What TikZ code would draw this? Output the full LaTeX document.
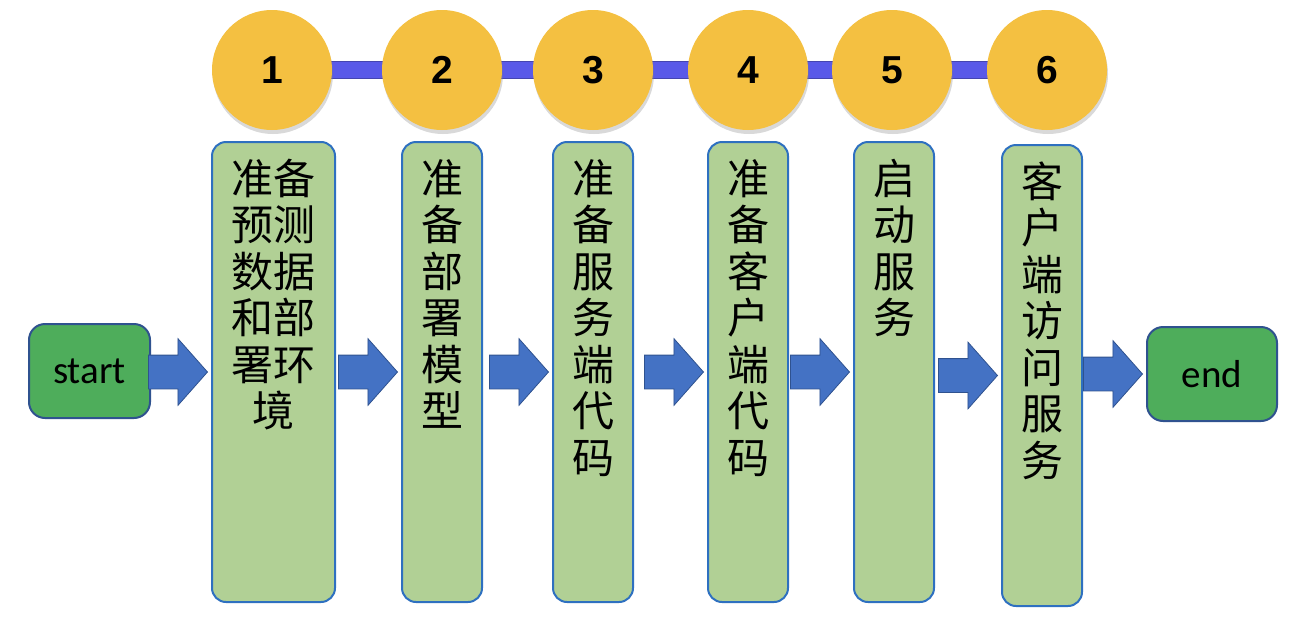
\documentclass[tikz,border=0pt]{standalone}
\usepackage{fontspec}
\setmainfont{Carlito}
\newfontfamily\cjk{Noto Sans CJK SC}
\newfontfamily\numfont{Liberation Sans}
\usetikzlibrary{calc,shapes.arrows,shadows,backgrounds}
\definecolor{stepgold}{RGB}{244,192,65}
\definecolor{barblue}{RGB}{90,90,232}
\definecolor{barline}{RGB}{70,70,175}
\definecolor{boxgreen}{RGB}{177,208,149}
\definecolor{boxline}{RGB}{46,112,192}
\definecolor{endgreen}{RGB}{78,173,91}
\definecolor{darkline}{RGB}{47,82,143}
\definecolor{arrowblue}{RGB}{68,114,196}
\tikzset{
  num/.style={
    circle,
    fill=stepgold,
    minimum size=120pt,
    inner sep=0pt,
    font=\numfont\bfseries\fontsize{39}{39}\selectfont,
    drop shadow={opacity=.3, shadow xshift=1pt, shadow yshift=-4pt}
  },
  tarea/.style={
    rectangle,
    rounded corners=14pt,
    draw=boxline,
    line width=2pt,
    fill=boxgreen,
    text width=80pt,
    inner sep=0pt,
    text height=52pt,
    text depth=408pt,
    align=center,
    font=\cjk\fontsize{42}{46.5}\selectfont
  },
  terminal/.style={
    rectangle,
    rounded corners=16pt,
    draw=darkline,
    line width=2pt,
    fill=endgreen,
    minimum height=94pt,
    inner sep=0pt,
    font=\fontsize{39}{39}\selectfont
  },
  flecha/.style={
    single arrow,
    draw=darkline,
    line width=.8pt,
    fill=arrowblue,
    minimum height=59pt,
    minimum width=66pt,
    inner xsep=0pt,
    inner ysep=16.5pt,
    single arrow head extend=16.5pt,
    single arrow tip angle=97,
    anchor=tip
  },
  barra/.style={
    draw=barline,
    line width=1pt,
    double=barblue,
    double distance=16pt
  }
}
\begin{document}
\begin{tikzpicture}[x=1pt, y=-1pt]
\useasboundingbox (0,0) rectangle (1298,624);
% numbered steps
\node[num] (c1) at (272,70) {1};
\node[num] (c2) at (442,70) {2};
\node[num] (c3) at (593,70) {3};
\node[num] (c4) at (748,70) {4};
\node[num] (c5) at (892,70) {5};
\node[num] (c6) at (1047,70) {6};
\begin{scope}[on background layer]
\foreach \i/\j in {1/2,2/3,3/4,4/5,5/6}
  \draw[barra] (c\i.center) -- (c\j.center);
\end{scope}
% tasks
\node[tarea, text width=123pt, anchor=north] (b1) at (273.5,141) {准备\\预测\\数据\\和部\\署环\\境};
\node[tarea, anchor=north] (b2) at (442,141) {准\\备\\部\\署\\模\\型};
\node[tarea, anchor=north] (b3) at (593,141) {准\\备\\服\\务\\端\\代\\码};
\node[tarea, anchor=north] (b4) at (748,141) {准\\备\\客\\户\\端\\代\\码};
\node[tarea, anchor=north] (b5) at (894,141) {启\\动\\服\\务};
\node[tarea, anchor=north, text depth=409pt] (b6) at (1042,144) {客\\户\\端\\访\\问\\服\\务};
% start and end
\node[terminal, minimum width=121pt] (start) at (89.5,371) {start};
\node[terminal, minimum width=130pt] (end) at (1212,374) {end};
% arrows
\node[flecha] (f1) at ($(b1.west)+(-3,0)$) {};
\node[flecha] (f2) at ($(b2.west)+(-3,0)$) {};
\node[flecha] (f3) at ($(b3.west)+(-3,0)$) {};
\node[flecha] (f4) at ($(b4.west)+(-3,0)$) {};
\node[flecha] (f5) at ($(b5.west)+(-3,0)$) {};
\node[flecha] (f6) at ($(b6.west)+(-3,0)$) {};
\node[flecha] (f7) at ($(end.west)+(-3,0)$) {};
\end{tikzpicture}
\end{document}
